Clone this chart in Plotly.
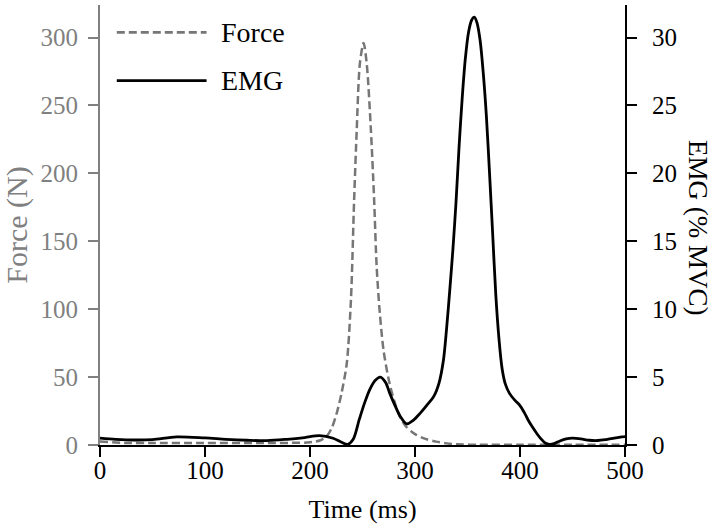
"""
Force and EMG time course (dual y axes).
"""

import plotly.graph_objects as go

# Force trace (grey, dashed) - time in ms, force in N
time_force = [0, 25, 50, 100, 150, 200, 210, 216, 221, 226, 230, 235, 239, 242,
              244.5, 247.5, 251, 254, 258, 261, 263.5, 266.5, 270, 275, 280, 285,
              291, 300, 310, 320, 330, 340, 360, 400, 450, 500]
force_n = [2.5, 1.5, 1.5, 1.5, 1.5, 2, 3.5, 6.5, 13, 25, 38, 60, 107, 180,
           232, 281, 296, 281, 232, 182, 131, 97, 70, 48, 33, 22,
           14, 8, 4.5, 2.5, 1.2, 0.5, 0.2, 0.1, 0.1, 0.1]

# EMG trace (black, solid) - time in ms, EMG in % MVC
time_emg = [0, 15, 32, 50, 73, 100, 120, 140, 159, 178, 195, 209, 222, 230, 236,
            241, 247, 252, 257, 262, 267, 272, 276, 281, 286, 292, 298, 305, 311,
            318, 323, 327, 330, 333, 336, 339, 342, 345, 348, 351, 354, 356.5,
            359, 362, 365, 368, 371, 374, 377, 380, 383, 386, 390, 395, 400, 404,
            408, 412, 416, 420, 424, 428, 433, 438, 444, 450, 458, 466, 474, 482,
            490, 497, 500]
emg_mvc = [0.5, 0.42, 0.37, 0.4, 0.6, 0.52, 0.42, 0.35, 0.32, 0.42, 0.55, 0.69,
           0.5, 0.2, 0.05, 0.4, 1.9, 3.1, 4.1, 4.75, 5.0, 4.6, 3.8, 2.9, 2.1,
           1.55, 1.8, 2.35, 2.9, 3.6, 4.6, 6.2, 8.5, 11.3, 14.3, 17.8, 22, 25.6,
           28.5, 30.4, 31.3, 31.5, 31.1, 29.8, 27.4, 24.2, 20, 15.5, 11, 7.8,
           5.6, 4.5, 3.8, 3.3, 2.9, 2.4, 1.8, 1.3, 0.85, 0.45, 0.15, 0.05, 0.12,
           0.3, 0.45, 0.5, 0.45, 0.35, 0.33, 0.4, 0.5, 0.6, 0.62]

x_ticks = [0, 100, 200, 300, 400, 500]
force_ticks = [0, 50, 100, 150, 200, 250, 300]
emg_ticks = [0, 5, 10, 15, 20, 25, 30]

FONT = "Liberation Serif"
GREY = "#808080"
FORCE_GREY = "#767676"

fig = go.Figure()

fig.add_trace(
    go.Scatter(
        x=time_force,
        y=force_n,
        mode="lines",
        line={"color": FORCE_GREY, "width": 2.5, "dash": "8px,4px",
              "shape": "spline", "smoothing": 0.8},
        yaxis="y",
        showlegend=False,
    )
)

fig.add_trace(
    go.Scatter(
        x=time_emg,
        y=emg_mvc,
        mode="lines",
        line={"color": "black", "width": 2.8, "shape": "spline",
              "smoothing": 0.9},
        yaxis="y2",
        showlegend=False,
    )
)

# Hand-drawn legend (long line samples, top left)
legend_items = [("Force", FORCE_GREY, "8px,4px", 0.938),
                ("EMG", "black", "solid", 0.828)]
for label, color, dash, ypos in legend_items:
    fig.add_shape(
        type="line", xref="paper", yref="paper",
        x0=0.032, x1=0.203, y0=ypos, y1=ypos,
        line={"color": color, "width": 2.8, "dash": dash},
    )
    fig.add_annotation(
        text=label, xref="paper", yref="paper", x=0.227, y=ypos,
        xanchor="left", yanchor="middle", showarrow=False,
        font={"family": FONT, "size": 28, "color": "black"},
    )

# Right axis title reads top-to-bottom
fig.add_annotation(
    text="EMG (% MVC)", xref="paper", yref="paper", x=1.139, y=0.493,
    xanchor="center", yanchor="middle", textangle=90, showarrow=False,
    font={"family": FONT, "size": 27, "color": "black"},
)

fig.update_layout(
    width=714,
    height=531,
    margin={"l": 100, "r": 89, "t": 5, "b": 86},
    paper_bgcolor="white",
    plot_bgcolor="white",
    font={"family": FONT, "size": 25, "color": "black"},
    xaxis={
        "range": [0, 500],
        "tickvals": x_ticks,
        "showgrid": False,
        "zeroline": False,
        "showline": True,
        "linecolor": "black",
        "linewidth": 2,
        "ticks": "outside",
        "ticklen": 10,
        "tickwidth": 2,
        "tickcolor": "black",
        "ticklabelstandoff": -8,
        "automargin": False,
        "title": {"text": "Time (ms)", "standoff": 17,
                  "font": {"family": FONT, "size": 26, "color": "black"}},
    },
    yaxis={
        "range": [0, 324],
        "tickvals": force_ticks,
        "showgrid": False,
        "zeroline": False,
        "showline": True,
        "linecolor": GREY,
        "linewidth": 2,
        "ticks": "outside",
        "ticklen": 10,
        "tickwidth": 2,
        "tickcolor": GREY,
        "tickfont": {"color": GREY},
        "ticklabelstandoff": 5,
        "automargin": False,
        "title": {"text": "Force (N)", "font": {"color": GREY}, "standoff": 6},
    },
    yaxis2={
        "range": [0, 32.4],
        "tickvals": emg_ticks,
        "overlaying": "y",
        "side": "right",
        "showgrid": False,
        "zeroline": False,
        "showline": True,
        "linecolor": "black",
        "linewidth": 2,
        "ticks": "outside",
        "ticklen": 10,
        "tickwidth": 2,
        "tickcolor": "black",
        "ticklabelstandoff": 10,
        "automargin": False,
    },
)

# drop the default page margin so the figure sits at the window's corner
fig.write_html(
    "out.html",
    config={"displayModeBar": False},
    post_script="document.body.style.margin = '0';",
)
